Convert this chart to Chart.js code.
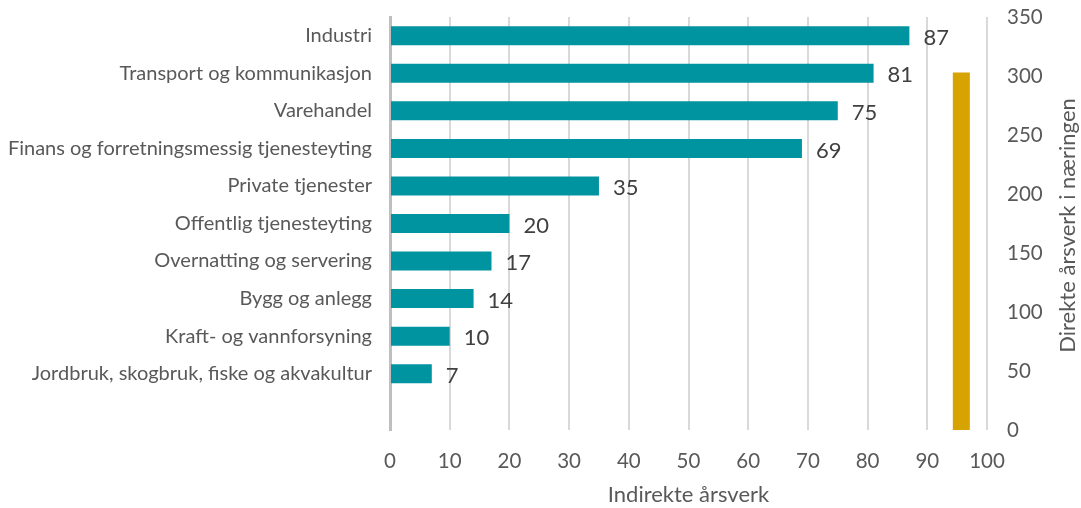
<!DOCTYPE html>
<html><head><meta charset="utf-8">
<script src="https://cdn.jsdelivr.net/npm/chart.js@4.4.1/dist/chart.umd.min.js"></script>
<style>html,body{margin:0;padding:0;background:#fff}#wrap{width:1081px;height:508px;position:relative}</style>
</head><body><div id="wrap"><canvas id="c"></canvas></div>
<script>
const categories = [
  'Industri',
  'Transport og kommunikasjon',
  'Varehandel',
  'Finans og forretningsmessig tjenesteyting',
  'Private tjenester',
  'Offentlig tjenesteyting',
  'Overnatting og servering',
  'Bygg og anlegg',
  'Kraft- og vannforsyning',
  'Jordbruk, skogbruk, fiske og akvakultur',
  ''
];
const indirectValues = [87, 81, 75, 69, 35, 20, 17, 14, 10, 7, null];
const directPosition = [95.7];
const directValue = [303];
const xAxisTitle = 'Indirekte årsverk';
const rightAxisTitle = 'Direkte årsverk i næringen';

const FONT = 'Lato';
const TXT = '#595959';

const labelPlugin = {
  id: 'valueLabels',
  afterDatasetsDraw(chart) {
    const ctx = chart.ctx;
    const meta = chart.getDatasetMeta(0);
    ctx.save();
    ctx.font = '22px ' + FONT;
    ctx.fillStyle = '#404040';
    ctx.textAlign = 'left';
    ctx.textBaseline = 'middle';
    meta.data.forEach((bar, i) => {
      const v = indirectValues[i];
      if (v === null || v === undefined) return;
      ctx.fillText(String(v), bar.x + 14, bar.y + 2);
    });
    ctx.restore();
  }
};

const rightTitlePlugin = {
  id: 'rightTitle',
  afterDraw(chart) {
    const ctx = chart.ctx;
    const a = chart.chartArea;
    ctx.save();
    ctx.translate(1068, (a.top + a.bottom) / 2 + 2);
    ctx.rotate(-Math.PI / 2);
    ctx.font = '22px ' + FONT;
    ctx.fillStyle = TXT;
    ctx.textAlign = 'center';
    ctx.textBaseline = 'middle';
    ctx.fillText(rightAxisTitle, 0, 0);
    ctx.restore();
  }
};

new Chart(document.getElementById('c'), {
  type: 'bar',
  data: {
    labels: categories,
    datasets: [
      {
        label: xAxisTitle,
        indexAxis: 'y',
        xAxisID: 'x',
        yAxisID: 'y',
        data: indirectValues,
        backgroundColor: '#0093A0',
        grouped: false,
        categoryPercentage: 1,
        barPercentage: 0.9,
        maxBarThickness: 19
      },
      {
        label: rightAxisTitle,
        indexAxis: 'x',
        xAxisID: 'x2',
        yAxisID: 'yR',
        data: directPosition.map((p, i) => ({ x: p, y: directValue[i] })),
        backgroundColor: '#D6A300',
        maxBarThickness: 17,
        grouped: false
      }
    ]
  },
  options: {
    indexAxis: 'y',
    responsive: true,
    maintainAspectRatio: false,
    animation: false,
    layout: { padding: { top: 17, left: 0, right: 0, bottom: 0 } },
    plugins: { legend: { display: false }, tooltip: { enabled: false } },
    scales: {
      x: {
        type: 'linear',
        position: 'bottom',
        min: 0, max: 100,
        offset: false,
        ticks: { stepSize: 10, color: TXT, font: { family: FONT, size: 20.5 }, padding: 19 },
        grid: { color: '#d9d9d9', lineWidth: 2, drawTicks: false, offset: false },
        border: { display: false },
        title: { display: true, text: xAxisTitle, color: TXT, font: { family: FONT, size: 22 }, padding: { top: 8, bottom: 0 } },
        afterFit(s) { s.height = 78; }
      },
      x2: {
        type: 'linear',
        axis: 'x',
        position: 'bottom',
        display: false,
        min: 0, max: 100,
        offset: false,
        ticks: { stepSize: 10 },
        grid: { offset: false }
      },
      y: {
        type: 'category',
        position: 'left',
        offset: true,
        ticks: { color: TXT, font: { family: FONT, size: 20 }, padding: 18, autoSkip: false },
        grid: { display: false, drawTicks: false },
        border: { display: true, color: '#bfbfbf', width: 3 },
        afterFit(s) { s.width = 390; s.paddingTop = 0; s.paddingBottom = 0; }
      },
      yR: {
        type: 'linear',
        axis: 'y',
        position: 'right',
        min: 0, max: 350,
        offset: false,
        ticks: { stepSize: 50, color: TXT, font: { family: FONT, size: 20.5 }, padding: 20 },
        grid: { display: false, drawTicks: false, offset: false },
        border: { display: false },
        afterFit(s) { s.width = 94; s.paddingTop = 0; s.paddingBottom = 0; }
      }
    }
  },
  plugins: [labelPlugin, rightTitlePlugin]
});
</script>
</body></html>
